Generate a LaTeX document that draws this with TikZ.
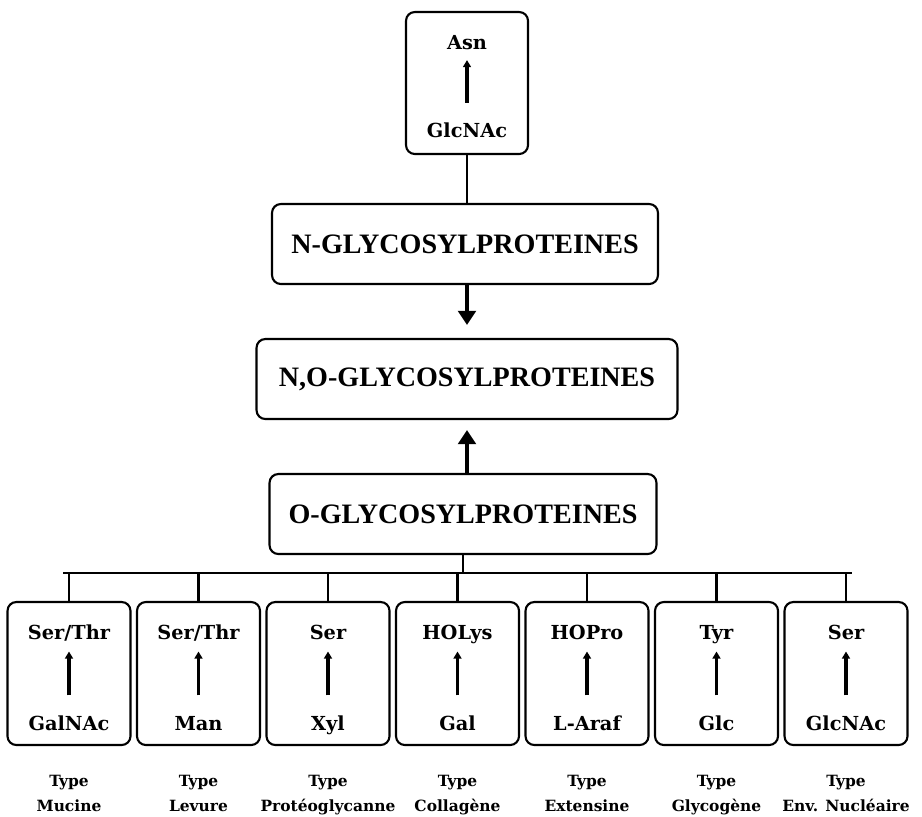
\documentclass[tikz,border=0pt]{standalone}
\usepackage{fontspec}
\setmainfont{Liberation Serif}
\newfontfamily\slabfont{DejaVu Serif}
\usetikzlibrary{arrows.meta}

\begin{document}
\begin{tikzpicture}[
  x=0.02cm, y=-0.02cm,
  font=\bfseries,
  frame/.style={draw, line width=1.2pt, rounded corners=5pt, fill=white},
  title/.style={frame, minimum height=1.6cm, font=\fontsize{16}{18}\selectfont\bfseries},
  sugarbox/.style={frame, minimum width=2.46cm, minimum height=2.86cm},
  residue/.style={inner sep=1pt, text height=8pt, text depth=2.4pt, font=\slabfont\fontsize{11}{13}\selectfont\bfseries},
  typelbl/.style={align=center, anchor=north, inner sep=1pt, font=\slabfont\fontsize{8.8}{14.2}\selectfont\bfseries},
  link/.style={line width=1.2pt},
  bond/.style={line width=1.9pt, -{Triangle[length=4pt,width=4.5pt]}, shorten <=11pt, shorten >=3pt},
  bigarrow/.style={line width=2.6pt, -{Triangle[length=8pt,width=10pt]}}
]
\useasboundingbox (0,0) rectangle (922,816);

% N-linked core
\node[sugarbox, minimum width=2.44cm, minimum height=2.84cm] (asnbox) at (467,83) {};
\node[residue] (asn) at (467,45) {Asn};
\node[residue] (asnglc) at (467,133) {GlcNAc};
\draw[bond, shorten <=10.7pt, shorten >=2.2pt] (asnglc) -- (asn);

\node[title, minimum width=7.72cm] (nbox) at (465,244) {N-GLYCOSYLPROTEINES};
\node[title, minimum width=8.42cm] (nobox) at (467,379) {N,O-GLYCOSYLPROTEINES};
\node[title, minimum width=7.74cm] (obox) at (463,514) {O-GLYCOSYLPROTEINES};

\draw[link] (asnbox.south) -- (asnbox.south |- nbox.north);
\draw[bigarrow, shorten >=7.4pt] (nbox.south -| nobox) -- (nobox.north);
\draw[bigarrow, shorten >=5.7pt] (obox.north -| nobox) -- (nobox.south);

% O-linked types
\coordinate (busl) at (63,573);
\coordinate (busr) at (852,573);
\draw[link] (busl) -- (busr);
\draw[link] (obox.south) -- (obox.south |- busl);

\foreach \i/\res/\sug/\kind in {1/{Ser/Thr}/GalNAc/Mucine, 2/{Ser/Thr}/Man/Levure,
    3/Ser/Xyl/Protéoglycanne, 4/HOLys/Gal/Collagène, 5/HOPro/L-Araf/Extensine,
    6/Tyr/Glc/Glycogène, 7/Ser/GlcNAc/Env. Nucléaire} {
  \node[sugarbox] (box\i) at ({69+129.5*(\i-1)},673.5) {};
  \node[residue] (res\i) at ({69+129.5*(\i-1)},635) {\res};
  \node[residue] (sug\i) at ({69+129.5*(\i-1)},726) {\sug};
  \draw[bond] (sug\i) -- (res\i);
  \draw[link] (box\i.north |- busl) -- (box\i.north);
  \node[typelbl] (kind\i) at ({69+129.5*(\i-1)},773) {Type\\\kind};
}
\end{tikzpicture}
\end{document}
